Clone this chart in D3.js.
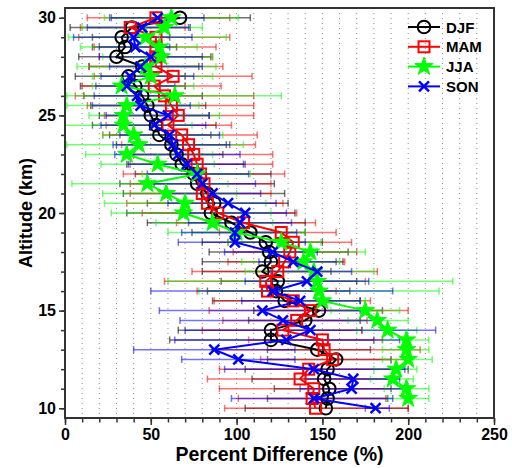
<!DOCTYPE html>
<html>
<head>
<meta charset="utf-8">
<script src="https://cdn.jsdelivr.net/npm/d3@7"></script>
<style>
  body { margin: 0; background: #fff; }
  text { font-family: "Liberation Sans", Arial, sans-serif; font-weight: bold; }
</style>
</head>
<body>
<div id="chart"></div>
<script>
// altitude levels (km), top to bottom
const altitudes = [30, 29.5, 29, 28.5, 28, 27.5, 27, 26.5, 26, 25.5, 25, 24.5, 24, 23.5, 23, 22.5, 22, 21.5, 21, 20.5,
    20, 19.5, 19, 18.5, 18, 17.5, 17, 16.5, 16, 15.5, 15, 14.5, 14, 13.5, 13, 12.5, 12, 11.5, 11, 10.5, 10];

const seasons = ["DJF", "MAM", "JJA", "SON"];

// percent difference and error bar ends, same order as altitudes
const djfValue = [67, 39, 33, 35, 30, 45, 37, 41, 45, 48, 50, 53, 55, 62, 65, 68, 75, 77, 83, 87,
    85, 97, 108, 117, 119, 120, 115, 124, 123, 128, 148, 140, 120, 120, 147, 158, 153, 151, 154, 153, 152];
const djfLow = [26, 3, 16, 16, 8, 14, 6, 9, 11, 15, 20, 16, 26, 30, 35, 36, 41, 32, 34, 48,
    36, 48, 74, 80, 84, 80, 80, 91, 83, 86, 110, 107, 66, 61, 118, 118, 105, 109, 122, 118, 105];
const djfHigh = [108, 73, 61, 65, 85, 78, 70, 70, 80, 82, 84, 88, 85, 94, 92, 104, 120, 122, 128, 130,
    134, 140, 140, 150, 165, 162, 155, 170, 166, 172, 185, 172, 173, 180, 178, 190, 200, 189, 190, 188, 200];

const mamValue = [53, 38, 53, 53, 53, 53, 63, 52, 58, 62, 66, 60, 68, 72, 75, 77, 79, 81, 80, 83,
    89, 104, 126, 133, 131, 128, 124, 117, 118, 133, 143, 135, 127, 150, 151, 156, 142, 137, 145, 144, 146];
const mamLow = [13, 9, 8, 17, 20, 14, 17, 10, 6, 13, 23, 24, 22, 33, 40, 38, 34, 38, 38, 36,
    45, 65, 90, 95, 98, 95, 74, 58, 77, 87, 84, 92, 80, 107, 88, 114, 90, 83, 90, 101, 93];
const mamHigh = [96, 70, 96, 88, 86, 92, 109, 91, 110, 110, 110, 97, 112, 111, 121, 121, 128, 120, 120, 127,
    135, 146, 158, 167, 170, 163, 182, 175, 158, 178, 200, 176, 173, 185, 207, 199, 194, 192, 198, 187, 200];

// JJA has no value at 10 km
const jjaValue = [62, 58, 47, 55, 56, 47, 50, 33, 64, 36, 34, 34, 40, 43, 36, 54, 77, 48, 59, 70,
    69, 86, 100, 126, 143, 139, 145, 147, 148, 150, 175, 182, 188, 199, 199, 200, 193, 191, 199, 200, null];
const jjaLow = [23, 10, 2, 9, 22, 7, 16, 16, 1, 1, 14, 0, 22, 1, 12, 21, 45, 4, 22, 23,
    27, 53, 60, 95, 115, 103, 105, 60, 78, 125, 155, 165, 170, 185, 185, 185, 180, 178, 186, 188, null];
const jjaHigh = [101, 80, 94, 77, 86, 88, 86, 75, 126, 78, 90, 74, 92, 104, 86, 87, 108, 95, 100, 117,
    120, 121, 140, 149, 175, 160, 180, 226, 218, 175, 195, 200, 205, 212, 212, 214, 205, 203, 212, 212, null];

const sonValue = [54, 45, 40, 41, 50, 44, 38, 36, 42, 44, 60, 52, 61, 63, 66, 71, 77, 80, 86, 95,
    105, 102, 99, 99, 121, 133, 147, 141, 121, 137, 115, 127, 143, 129, 87, 101, 145, 168, 167, 145, 181];
const sonLow = [27, 13, 5, 20, 20, 26, 21, 18, 17, 16, 24, 21, 32, 28, 29, 37, 48, 52, 59, 60,
    70, 72, 68, 66, 93, 113, 120, 105, 50, 103, 55, 67, 70, 64, 40, 68, 93, 140, 137, 97, 175];
const sonHigh = [81, 72, 74, 61, 80, 80, 75, 64, 65, 73, 84, 82, 90, 96, 102, 105, 107, 111, 114, 123,
    129, 132, 135, 140, 147, 158, 167, 177, 191, 172, 172, 184, 216, 195, 134, 134, 198, 195, 198, 191, 189];

const xTicks = [0, 50, 100, 150, 200, 250];
const yTicks = [10, 15, 20, 25, 30];

const width = 512, height = 468;
const margin = { top: 8, right: 18, bottom: 50, left: 65 };

const series = [
    { name: "DJF", color: "#000000", symbol: "circle", value: djfValue, low: djfLow, high: djfHigh },
    { name: "MAM", color: "#ff0000", symbol: "square", value: mamValue, low: mamLow, high: mamHigh },
    { name: "JJA", color: "#00ff00", symbol: "star", value: jjaValue, low: jjaLow, high: jjaHigh },
    { name: "SON", color: "#0000ff", symbol: "cross", value: sonValue, low: sonLow, high: sonHigh }
];
series.forEach(s => {
    s.points = altitudes.map((a, i) => ({ alt: a, v: s.value[i], lo: s.low[i], hi: s.high[i] }))
        .filter(d => d.v != null);
});

const svg = d3.select("#chart").append("svg")
    .attr("width", width)
    .attr("height", height);

const x = d3.scaleLinear().domain([0, 250]).range([margin.left, width - margin.right]);
const y = d3.scaleLinear().domain([9.5, 30.5]).range([height - margin.bottom, margin.top]);

// dotted vertical grid every 10 %
svg.append("g")
    .selectAll("line")
    .data(d3.range(10, 250, 10))
    .join("line")
    .attr("x1", d => x(d)).attr("x2", d => x(d))
    .attr("y1", y(30.5)).attr("y2", y(9.5))
    .attr("stroke", "#8a8a8a")
    .attr("stroke-width", 1)
    .attr("stroke-dasharray", "1,4");

// error bars
const capH = 3.5;
series.forEach(s => {
    const g = svg.append("g")
        .attr("stroke", s.color)
        .attr("stroke-opacity", 0.55)
        .attr("stroke-width", 1.5);
    g.selectAll("line.bar")
        .data(s.points)
        .join("line")
        .attr("class", "bar")
        .attr("x1", d => x(d.lo)).attr("x2", d => x(d.hi))
        .attr("y1", d => y(d.alt)).attr("y2", d => y(d.alt));
    g.selectAll("line.capl")
        .data(s.points)
        .join("line")
        .attr("class", "capl")
        .attr("x1", d => x(d.lo)).attr("x2", d => x(d.lo))
        .attr("y1", d => y(d.alt) - capH).attr("y2", d => y(d.alt) + capH);
    g.selectAll("line.caph")
        .data(s.points)
        .join("line")
        .attr("class", "caph")
        .attr("x1", d => x(d.hi)).attr("x2", d => x(d.hi))
        .attr("y1", d => y(d.alt) - capH).attr("y2", d => y(d.alt) + capH);
});

function drawMarker(g, type, color, cx, cy) {
    if (type == "circle") {
        g.append("circle").attr("cx", cx).attr("cy", cy).attr("r", 6.3)
            .attr("fill", "none").attr("stroke", color).attr("stroke-width", 2);
    } else if (type == "square") {
        g.append("rect").attr("x", cx - 5.5).attr("y", cy - 5.5).attr("width", 11).attr("height", 11)
            .attr("fill", "none").attr("stroke", color).attr("stroke-width", 2);
    } else if (type == "star") {
        g.append("path").attr("transform", `translate(${cx},${cy})`)
            .attr("d", d3.symbol(d3.symbolStar, 105)())
            .attr("fill", color).attr("stroke", color).attr("stroke-width", 1);
    } else {
        g.append("path").attr("transform", `translate(${cx},${cy})`)
            .attr("d", "M-5,-5L5,5M-5,5L5,-5")
            .attr("fill", "none").attr("stroke", color).attr("stroke-width", 2.5);
    }
}

const line = d3.line().x(d => x(d.v)).y(d => y(d.alt));

series.forEach(s => {
    svg.append("path")
        .datum(s.points)
        .attr("d", line)
        .attr("fill", "none")
        .attr("stroke", s.color)
        .attr("stroke-width", 2);
    const mg = svg.append("g");
    s.points.forEach(d => drawMarker(mg, s.symbol, s.color, x(d.v), y(d.alt)));
});

// axes
const xAxisMinor = d3.axisBottom(x).tickValues(d3.range(0, 251, 10)).tickSize(4.5).tickFormat("");
const xAxisMajor = d3.axisBottom(x).tickValues(xTicks).tickSize(7).tickPadding(4);
const yAxisMinor = d3.axisLeft(y).tickValues(d3.range(10, 31, 1)).tickSize(4).tickFormat("");
const yAxisMajor = d3.axisLeft(y).tickValues(yTicks).tickSize(6).tickPadding(3);

const bottomY = y(9.5);
[xAxisMinor, xAxisMajor].forEach(ax => {
    svg.append("g").attr("class", "x-axis")
        .attr("transform", `translate(0, ${bottomY})`)
        .call(ax);
});
[yAxisMinor, yAxisMajor].forEach(ax => {
    svg.append("g").attr("class", "y-axis")
        .attr("transform", `translate(${margin.left}, 0)`)
        .call(ax);
});
svg.selectAll(".x-axis .domain, .y-axis .domain").remove();
svg.selectAll(".tick line").attr("stroke", "#333").attr("stroke-width", 1.5);
svg.selectAll(".tick text")
    .attr("font-size", 16)
    .attr("fill", "#000")
    .style("font-family", "'Liberation Sans', Arial, sans-serif")
    .style("font-weight", "bold");

// frame
svg.append("rect")
    .attr("x", x(0)).attr("y", y(30.5))
    .attr("width", x(250) - x(0)).attr("height", y(9.5) - y(30.5))
    .attr("fill", "none")
    .attr("stroke", "#333")
    .attr("stroke-width", 2);

// titles
svg.append("text")
    .attr("x", (x(0) + x(250)) / 2)
    .attr("y", 461)
    .attr("text-anchor", "middle")
    .attr("font-size", 19.5)
    .text("Percent Difference (%)");

svg.append("text")
    .attr("transform", `translate(32, ${(y(9.5) + y(30.5)) / 2}) rotate(-90)`)
    .attr("text-anchor", "middle")
    .attr("font-size", 18)
    .text("Altitude (km)");

// legend
const legend = svg.append("g").attr("class", "legend");
series.forEach((s, i) => {
    const ly = 27 + i * 19.8;
    legend.append("line")
        .attr("x1", 408).attr("x2", 440)
        .attr("y1", ly).attr("y2", ly)
        .attr("stroke", s.color).attr("stroke-width", 2);
    drawMarker(legend, s.symbol, s.color, 424, ly);
    legend.append("text")
        .attr("x", 446).attr("y", ly + 5.5)
        .attr("font-size", 15)
        .text(s.name);
});
</script>
</body>
</html>
